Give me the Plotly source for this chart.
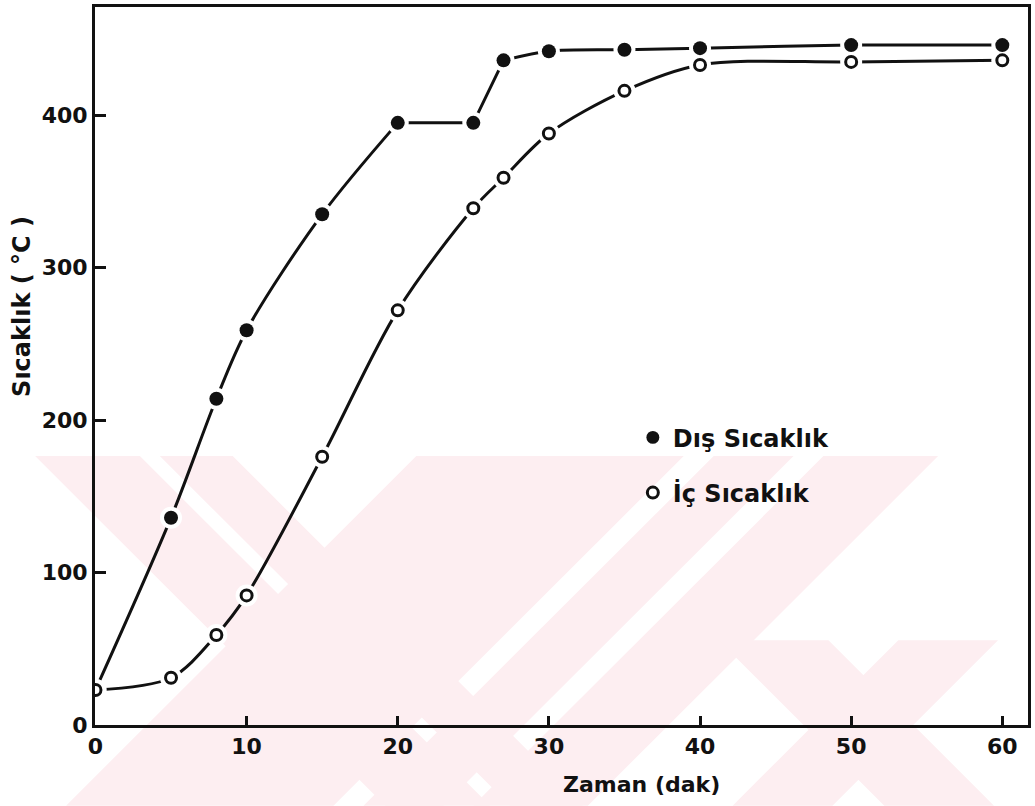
import plotly.graph_objects as go

# Time (min) and measured temperatures (°C)
zaman = [0, 5, 8, 10, 15, 20, 25, 27, 30, 35, 40, 50, 60]
dis_sicaklik = [23, 136, 214, 259, 335, 395, 395, 436, 442, 443, 444, 446, 446]
ic_sicaklik = [23, 31, 59, 85, 176, 272, 339, 359, 388, 416, 433, 435, 436]

x_ticks = [0, 10, 20, 30, 40, 50, 60]
y_ticks = [0, 100, 200, 300, 400]

FONT = "DejaVu Sans"
INK = "#111111"
W, H = 1035, 806
ML, MR, MT, MB = 95, 5, 4, 81
PW, PH = W - ML - MR, H - MT - MB


def px(x):
    return (x - ML) / PW


def py(y):
    return (H - MB - y) / PH


fig = go.Figure()

# Faint diagonal watermark bands in the lower half of the page
PINK = "rgb(253,238,241)"
TOP, BOT = 455, 806


def band(x1, x2, slope, top=TOP, bot=BOT):
    d = (bot - top) * slope
    pts = [(x1, top), (x2, top), (x2 + d, bot), (x1 + d, bot)]
    path = "M " + " L ".join(f"{px(a):.4f},{py(b):.4f}" for a, b in pts) + " Z"
    fig.add_shape(type="path", path=path, xref="paper", yref="paper",
                  fillcolor=PINK, line=dict(width=0), layer="below")


band(35, 140, 1)
band(160, 233, 1)
band(417, 685, -1)
band(715, 795, -1)
band(825, 940, -1)
band(720, 830, 1, top=640)
band(900, 1000, -1, top=640)

# Outer curve: smooth rise, flat plateau 20-25 min, then a sharp step at 27 min
segments = [(0, 6, "spline"), (5, 8, "linear"), (7, 13, "spline")]
for a, b, shape in segments:
    fig.add_trace(go.Scatter(
        x=zaman[a:b], y=dis_sicaklik[a:b], mode="lines",
        line=dict(color=INK, width=3, shape=shape, smoothing=0.9),
        showlegend=False, hoverinfo="skip"))

# Inner curve
fig.add_trace(go.Scatter(
    x=zaman, y=ic_sicaklik, mode="lines",
    line=dict(color=INK, width=3, shape="spline", smoothing=0.9),
    showlegend=False, hoverinfo="skip"))

# White halos leave a small gap between the curves and the markers
for ys in (dis_sicaklik, ic_sicaklik):
    fig.add_trace(go.Scatter(
        x=zaman, y=ys, mode="markers",
        marker=dict(size=22, color="white", opacity=1, line=dict(width=0)),
        showlegend=False, hoverinfo="skip"))

dis_sizes = [0] + [14] * (len(zaman) - 1)
fig.add_trace(go.Scatter(
    x=zaman, y=dis_sicaklik, mode="markers", name="Dış Sıcaklık",
    marker=dict(size=dis_sizes, color=INK, opacity=1, line=dict(width=0)),
    legendgroup="dis"))
fig.add_trace(go.Scatter(
    x=zaman, y=ic_sicaklik, mode="markers", name="İç Sıcaklık",
    marker=dict(size=11, color="white", opacity=1, line=dict(width=3, color=INK)),
    legendgroup="ic"))

axis_common = dict(
    showline=True, linecolor=INK, linewidth=3, mirror=True,
    ticks="inside", tickcolor=INK, tickwidth=2.5,
    showgrid=False, zeroline=False,
    tickfont=dict(family=FONT, size=22, color=INK, weight="bold"),
)

fig.update_xaxes(range=[-0.03, 61.7], tickvals=x_ticks, ticklen=9, **axis_common)
fig.update_yaxes(range=[0, 471], tickvals=y_ticks, ticklen=11, **axis_common)

fig.add_annotation(
    text="Sıcaklık ( °C )", xref="paper", yref="paper",
    x=px(22), y=py(305), xanchor="center", yanchor="middle",
    textangle=-90, showarrow=False,
    font=dict(family=FONT, size=24, color=INK, weight="bold"))
fig.add_annotation(
    text="Zaman (dak)", xref="paper", yref="paper",
    x=px(643), y=py(785), xanchor="center", yanchor="middle",
    showarrow=False,
    font=dict(family=FONT, size=22, color=INK, weight="bold"))

fig.update_layout(
    width=W, height=H,
    margin=dict(l=ML, r=MR, t=MT, b=MB),
    paper_bgcolor="white", plot_bgcolor="rgba(0,0,0,0)",
    legend=dict(x=px(634), y=py(414), xanchor="left", yanchor="top",
                font=dict(family=FONT, size=24, color=INK, weight="bold"),
                bgcolor="rgba(0,0,0,0)", tracegroupgap=21),
)

fig.write_html("out.html")
